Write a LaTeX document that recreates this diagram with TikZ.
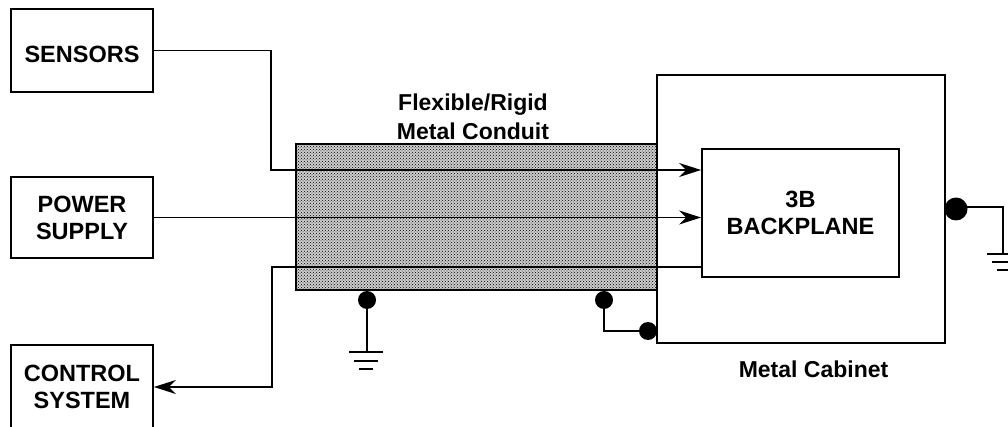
\documentclass[tikz,border=0pt]{standalone}
\usepackage{fontspec}
\setmainfont{Liberation Sans}
\usetikzlibrary{arrows.meta,patterns}
\tikzset{
  unitbox/.style={draw,line width=1.8pt,align=center,inner sep=0pt,font=\fontsize{23.5}{27}\selectfont\bfseries},
  wire/.style={line width=1.7pt},
  feed/.style={wire,-{Stealth[length=22pt,width=14pt,inset=7pt]}},
  bond/.style={circle,fill=black,inner sep=0pt,minimum size=#1},
  capt/.style={align=center,font=\fontsize{23}{29}\selectfont\bfseries}
}
\begin{document}
\begin{tikzpicture}[x=1pt,y=-1pt]
  \useasboundingbox (0,0) rectangle (1008,427);
  % conduit and cabinet
  \node[draw,line width=2pt,preaction={fill=black!20},pattern=crosshatch dots,minimum width=361pt,minimum height=146pt,inner sep=0pt] (conduit) at (476.5,217) {};
  \draw[line width=1.8pt] (657,75) -- (945,75) -- (945,343) -- (657,343) -- cycle;
  \node[unitbox,minimum width=197pt,minimum height=128pt] (backplane) at (800.5,213) {3B\\BACKPLANE};
  % units on the left
  \node[unitbox,minimum width=142pt,minimum height=83pt,text height=23.5pt] (sensors) at (82,50.5) {SENSORS};
  \node[unitbox,minimum width=142pt,minimum height=81pt] (power) at (82,217.5) {POWER\\SUPPLY};
  \node[unitbox,minimum width=142pt,minimum height=84pt] (control) at (82,387) {CONTROL\\SYSTEM};
  % turning points
  \coordinate (sensorsturn) at (271,170);
  \coordinate (controlturn) at (272,267);
  % wires
  \draw[feed] (sensors.east) -| (sensorsturn) -- (backplane.west |- sensorsturn);
  \draw[feed] (power.east) -- (backplane.west |- power.east);
  \draw[feed] (backplane.west |- controlturn) -- (controlturn) |- (control.east);
  % bonds
  \node[bond=23pt] (cabstud) at (956,209) {};
  \coordinate (earthr) at (1003,207);
  \coordinate (groundr) at (1003,254);
  \draw[wire] (cabstud.center |- earthr) -- (earthr) -- (groundr);
  \node[bond=18pt] (condstud) at (367,300) {};
  \coordinate (groundm) at (367,352);
  \draw[wire] (condstud) -- (groundm);
  \node[bond=18pt] (strapa) at (604,300) {};
  \node[bond=18pt] (strapb) at (648,331) {};
  \draw[wire] (strapa) |- (strapb);
  % earth symbols
  \draw[wire] (349,352) -- (383,352) (354,361) -- (378,361) (359,369) -- (373,369);
  \draw[wire] (987,254) -- (1008,254) (992,262) -- (1008,262) (997,270) -- (1008,270);
  % captions
  \node[capt] (conduitcap) at (473,117) {Flexible/Rigid\\Metal Conduit};
  \node[capt] (cabinetcap) at (813.5,369) {Metal Cabinet};
\end{tikzpicture}
\end{document}
